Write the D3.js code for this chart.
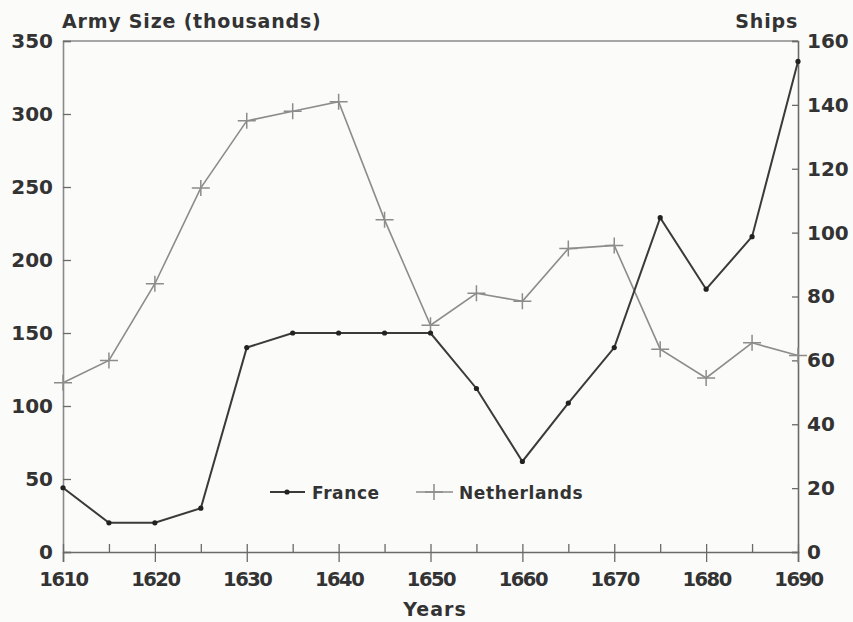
<!DOCTYPE html>
<html><head><meta charset="utf-8">
<script src="https://cdn.jsdelivr.net/npm/d3@7"></script>
<style>
body{margin:0;background:#fbfbfa;}
svg{display:block;}
text{font-family:"DejaVu Sans",sans-serif;fill:#333;font-weight:bold;}
</style></head>
<body>
<svg id="c" width="853" height="622"></svg>
<script>
const years = [1610,1615,1620,1625,1630,1635,1640,1645,1650,1655,1660,1665,1670,1675,1680,1685,1690];
const france = [44,20,20,30,140,150,150,150,150,112,62,102,140,229,180,216,336];
const netherlands = [53,60,84,114,135,138,141,104,71,81,78.5,95,96,63.5,54.5,65.5,61.5];
const xTicks = [1610,1620,1630,1640,1650,1660,1670,1680,1690];
const xMinor = [1615,1625,1635,1645,1655,1665,1675,1685];
const leftTicks = [0,50,100,150,200,250,300,350];
const rightTicks = [0,20,40,60,80,100,120,140,160];

const svg = d3.select("#c");
const L=63, R=798, T=41, B=552;
const x = d3.scaleLinear().domain([1610,1690]).range([L,R]);
const yL = d3.scaleLinear().domain([0,350]).range([B,T]);
const yR = d3.scaleLinear().domain([0,160]).range([B,T]);

const frame="#6a6a6a";
svg.append("line").attr("x1",L).attr("x2",R).attr("y1",T).attr("y2",T).attr("stroke","#8a8a8a").attr("stroke-width",1.6);
const gL = svg.append("g").attr("transform",`translate(${L},0)`)
  .call(d3.axisLeft(yL).tickValues(leftTicks).tickSize(-8).tickPadding(10));
const gR = svg.append("g").attr("transform",`translate(${R},0)`)
  .call(d3.axisRight(yR).tickValues(rightTicks).tickSize(-6).tickPadding(9));
const gB = svg.append("g").attr("transform",`translate(0,${B})`)
  .call(d3.axisBottom(x).tickValues(xTicks).tickFormat(d3.format("d")).tickSize(10).tickPadding(10));
gB.selectAll(".tick line").attr("y1",-8);
const gBm = svg.append("g").attr("transform",`translate(0,${B})`)
  .call(d3.axisBottom(x).tickValues(xMinor).tickFormat("").tickSize(-8));
gBm.select(".domain").remove();
[gL,gR,gB,gBm].forEach(g=>{
  g.select(".domain").attr("stroke",frame).attr("stroke-width",1.6);
  g.selectAll(".tick line").attr("stroke",frame).attr("stroke-width",1.3);
  g.selectAll(".tick text").style("font-family","DejaVu Sans, sans-serif").style("font-weight","bold").style("font-size","20px").attr("fill","#333");
});
gB.selectAll(".tick text").style("font-size","19.5px").style("letter-spacing","-1.5px");
gL.select(".domain").attr("stroke","#8a8a8a");

const lineF = d3.line().x((d,i)=>x(years[i])).y(d=>yL(d));
const lineN = d3.line().x((d,i)=>x(years[i])).y(d=>yR(d));
svg.append("path").datum(netherlands).attr("d",lineN).attr("fill","none").attr("stroke","#8c8c8c").attr("stroke-width",1.6);
svg.append("path").datum(france).attr("d",lineF).attr("fill","none").attr("stroke","#3a3a3a").attr("stroke-width",2);

const plus = (g,cx,cy)=>{
  g.append("path").attr("d",`M${cx-9},${cy}H${cx+9}M${cx},${cy-8}V${cy+8}`).attr("stroke","#8c8c8c").attr("stroke-width",1.5);
};
const gN = svg.append("g");
netherlands.forEach((d,i)=>plus(gN,x(years[i]),yR(d)));
svg.append("g").selectAll("circle").data(france).join("circle")
  .attr("cx",(d,i)=>x(years[i])).attr("cy",d=>yL(d)).attr("r",2.6).attr("fill","#222");

svg.append("text").attr("x",62).attr("y",28).style("font-size","19px").style("letter-spacing","0.8px").text("Army Size (thousands)");
svg.append("text").attr("x",798).attr("y",28).attr("text-anchor","end").style("font-size","19px").style("letter-spacing","0.8px").text("Ships");
svg.append("text").attr("x",435).attr("y",616).attr("text-anchor","middle").style("font-size","19px").style("letter-spacing","1px").text("Years");

const lg = svg.append("g");
lg.append("line").attr("x1",270).attr("x2",305).attr("y1",492).attr("y2",492).attr("stroke","#3a3a3a").attr("stroke-width",2);
lg.append("circle").attr("cx",287).attr("cy",492).attr("r",2.6).attr("fill","#222");
lg.append("text").attr("x",312).attr("y",499).style("font-size","17px").style("letter-spacing","0.6px").text("France");
lg.append("line").attr("x1",416).attr("x2",453).attr("y1",492).attr("y2",492).attr("stroke","#8c8c8c").attr("stroke-width",1.6);
plus(lg,434,492);
lg.append("text").attr("x",459).attr("y",499).style("font-size","17px").style("letter-spacing","0.6px").text("Netherlands");
</script>
</body></html>
